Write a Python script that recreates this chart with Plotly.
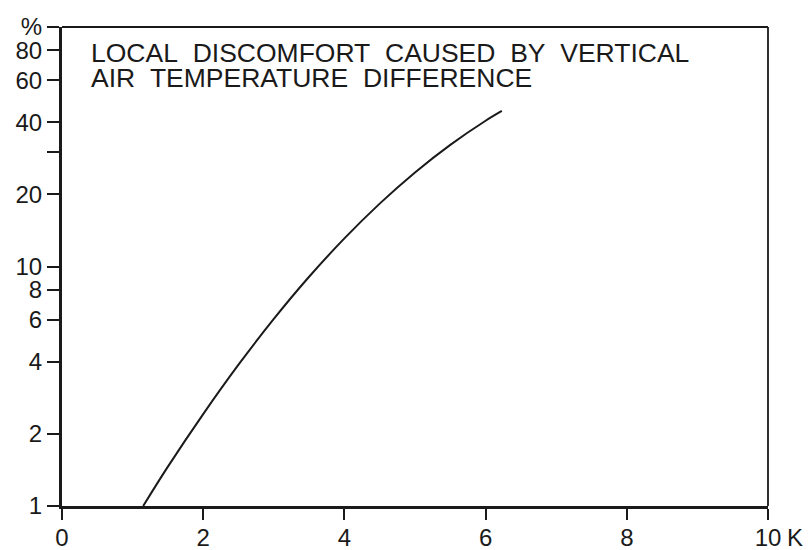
import plotly.graph_objects as go

# Temperature difference between head and ankles (K) and percentage dissatisfied
temp_diff_k = [1.15, 1.5, 2.0, 2.5, 3.0, 3.5, 4.0, 4.5, 5.0, 5.5, 6.0, 6.23]
dissatisfied_pct = [1.0, 1.46, 2.42, 3.89, 6.04, 9.06, 13.1, 18.3, 24.7, 32.2, 40.6, 44.6]

x_tick_vals = [0, 2, 4, 6, 8, 10]
x_tick_text = ["0", "2", "4", "6", "8", "10"]
y_tick_vals = [1, 2, 4, 6, 8, 10, 20, 30, 40, 60, 80, 100]
y_tick_text = ["1", "2", "4", "6", "8", "10", "20", "", "40", "60", "80", "%"]

title_lines = ["LOCAL DISCOMFORT CAUSED BY VERTICAL", "AIR TEMPERATURE DIFFERENCE"]
x_unit = "K"

FONT = "Liberation Sans, Arial, Helvetica, sans-serif"
INK = "#1a1a1a"

fig = go.Figure()
fig.add_trace(go.Scatter(
    x=temp_diff_k, y=dissatisfied_pct, mode="lines",
    line=dict(color=INK, width=2, shape="spline", smoothing=1.0),
    hoverinfo="skip", showlegend=False,
))

fig.update_xaxes(
    range=[0, 10], tickvals=x_tick_vals, ticktext=x_tick_text,
    ticks="outside", ticklen=11, tickwidth=1.5, tickcolor=INK,
    ticklabelstandoff=-3,
    showline=True, linewidth=3, linecolor=INK,
    showgrid=False, zeroline=False, automargin=False,
    tickfont=dict(family=FONT, size=24, color=INK),
)
fig.update_yaxes(
    type="log", range=[0, 2], tickvals=y_tick_vals, ticktext=y_tick_text,
    ticks="outside", ticklen=12, tickwidth=1.5, tickcolor=INK,
    showline=True, linewidth=3, linecolor=INK,
    showgrid=False, zeroline=False, automargin=False,
    tickfont=dict(family=FONT, size=24, color=INK),
)

# thinner frame on top and right
fig.add_shape(type="line", xref="paper", yref="paper", x0=0, x1=1, y0=1, y1=1,
              line=dict(color=INK, width=1.8))
fig.add_shape(type="line", xref="paper", yref="paper", x0=1, x1=1, y0=0, y1=1,
              line=dict(color=INK, width=1.8))

# two-line heading inside the frame, words spaced wide
for line_text, y_pos in zip(title_lines, [0.946, 0.893]):
    fig.add_annotation(
        xref="paper", yref="paper", x=0.038, y=y_pos, xanchor="left", yanchor="middle",
        text=line_text.replace(" ", "&nbsp;&nbsp;"), align="left", showarrow=False,
        font=dict(family=FONT, size=26.5, color=INK),
    )

fig.add_annotation(
    xref="paper", yref="paper", x=1.0, y=0, xanchor="left", yanchor="top",
    xshift=17, yshift=-16,
    text=x_unit, showarrow=False,
    font=dict(family=FONT, size=24, color=INK),
)

fig.update_layout(
    width=808, height=550,
    margin=dict(l=62, r=40, t=27, b=44),
    paper_bgcolor="white", plot_bgcolor="white",
)

fig.write_html("out.html")
